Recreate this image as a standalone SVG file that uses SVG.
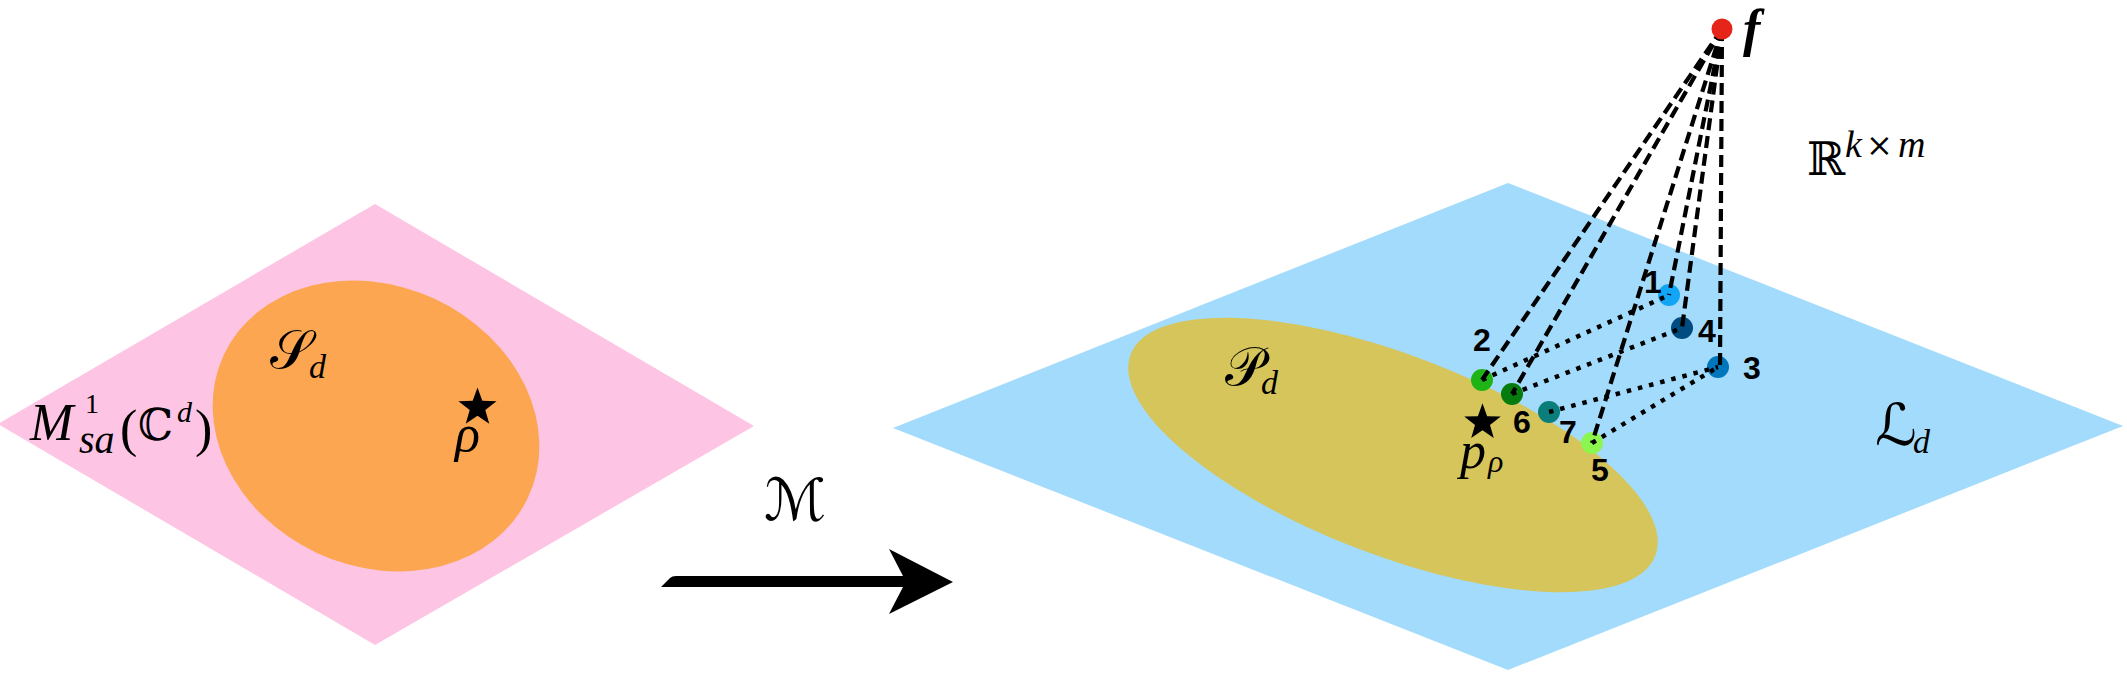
<svg xmlns="http://www.w3.org/2000/svg" width="2127" height="680" viewBox="0 0 2127 680">
<style>
.mi{font-family:"Liberation Serif","DejaVu Serif",serif;font-style:italic;fill:#000}
.rm{font-family:"Liberation Serif","DejaVu Serif",serif;fill:#000}
.cal{font-family:"DejaVu Serif","DejaVu Sans","Noto Sans",serif;fill:#000}
.bb{font-family:"DejaVu Serif","DejaVu Sans",serif;fill:#000}
.num{font-family:"Liberation Sans",Arial,sans-serif;font-weight:bold;font-size:32px;fill:#000;text-anchor:middle}
.dash{fill:none;stroke:#000;stroke-width:4.2;stroke-dasharray:12 6}
.dot{fill:none;stroke:#000;stroke-width:4.5;stroke-dasharray:4.5 7}
</style>
<defs>
<polygon id="star" points="0,-20 4.82,-6.63 19.02,-6.18 7.8,2.53 11.76,16.18 0,8.2 -11.76,16.18 -7.8,2.53 -19.02,-6.18 -4.82,-6.63" fill="#000"/>
</defs>
<rect width="2127" height="680" fill="#fff"/>
<g id="left-plane">
<polygon points="-2,424 375,204 754,426 375,645" fill="#FDC5E3"/>
<text class="mi" x="30" y="440" font-size="52">M</text>
<text class="rm" x="85" y="413" font-size="28">1</text>
<text class="mi" x="79" y="453" font-size="40">sa</text>
<text class="rm" x="120" y="446" font-size="52">(</text>
<text class="bb" x="138" y="440" font-size="44">ℂ</text>
<text class="mi" x="177" y="422" font-size="30">d</text>
<text class="rm" x="195" y="446" font-size="52">)</text>
</g>
<g id="S-set">
<ellipse cx="376" cy="426" rx="168" ry="140" transform="rotate(25 376 426)" fill="#FDA651"/>
<text class="cal" x="270" y="368" font-size="54">𝒮</text>
<text class="mi" x="309" y="378" font-size="34">d</text>
</g>
<g id="rho">
<use href="#star" transform="translate(477.5 407.5)"/>
<text class="mi" x="455" y="451" font-size="52">ρ</text>
</g>
<g id="map-arrow">
<path d="M661 587 L670 578 Q672 576 676 576 L903 576 L889 549 L953 582 L889 614 L903 587 Z" fill="#000"/>
<text class="cal" x="764" y="520" font-size="58">ℳ</text>
</g>
<g id="right-plane">
<polygon points="893,428 1508,183 2123,426 1508,670" fill="#A2DBFB"/>
<text class="cal" x="1875" y="445" font-size="58">ℒ</text>
<text class="mi" x="1913" y="453" font-size="34">d</text>
</g>
<g id="space-label">
<text class="bb" x="1807" y="175" font-size="46">ℝ</text>
<text class="mi" x="1845" y="157" font-size="38">k</text>
<text class="bb" x="1866" y="156" font-size="32">×</text>
<text class="mi" x="1898" y="157" font-size="38">m</text>
</g>
<g id="P-set">
<ellipse cx="1393" cy="455" rx="281" ry="100" transform="rotate(21 1393 455)" fill="#D6C55B"/>
<text class="cal" x="1225" y="385" font-size="54">𝒫</text>
<text class="mi" x="1261" y="394" font-size="34">d</text>
</g>
<g id="p-rho">
<use href="#star" transform="translate(1482.5 422.5) scale(0.96)"/>
<text class="mi" x="1460" y="468" font-size="52">p</text>
<text class="mi" x="1488" y="472" font-size="32">ρ</text>
</g>
<g id="point-1"><circle cx="1669" cy="295" r="11" fill="#13A5F5"/><text class="num" x="1653" y="293">1</text></g>
<g id="point-2"><circle cx="1482" cy="380" r="11" fill="#1EB416"/><text class="num" x="1482" y="351">2</text></g>
<g id="point-3"><circle cx="1718" cy="367" r="11" fill="#0076BC"/><text class="num" x="1752" y="379">3</text></g>
<g id="point-4"><circle cx="1682" cy="328" r="11" fill="#004B7F"/><text class="num" x="1707" y="342">4</text></g>
<g id="point-5"><circle cx="1592" cy="443" r="11" fill="#8CF54E"/><text class="num" x="1600" y="481">5</text></g>
<g id="point-6"><circle cx="1512" cy="394" r="11" fill="#057C0D"/><text class="num" x="1522" y="433">6</text></g>
<g id="point-7"><circle cx="1549" cy="412" r="11" fill="#0B7E7B"/><text class="num" x="1568" y="443">7</text></g>
<g id="connectors">
<line class="dash" x1="1722" y1="29" x2="1482" y2="380"/>
<line class="dash" x1="1722" y1="29" x2="1512" y2="394"/>
<line class="dash" x1="1722" y1="29" x2="1592" y2="443"/>
<line class="dash" x1="1722" y1="29" x2="1669" y2="295"/>
<line class="dash" x1="1722" y1="29" x2="1682" y2="328"/>
<line class="dash" x1="1722" y1="29" x2="1720" y2="367"/>
<line class="dot" x1="1482" y1="380" x2="1669" y2="295"/>
<line class="dot" x1="1512" y1="394" x2="1682" y2="328"/>
<line class="dot" x1="1549" y1="412" x2="1718" y2="367"/>
<line class="dot" x1="1592" y1="443" x2="1718" y2="367"/>
</g>
<g id="f-point">
<circle cx="1722" cy="29" r="10.5" fill="#E5251A"/>
<text class="mi" x="1743" y="46" font-size="52" font-weight="bold">f</text>
</g>
</svg>
